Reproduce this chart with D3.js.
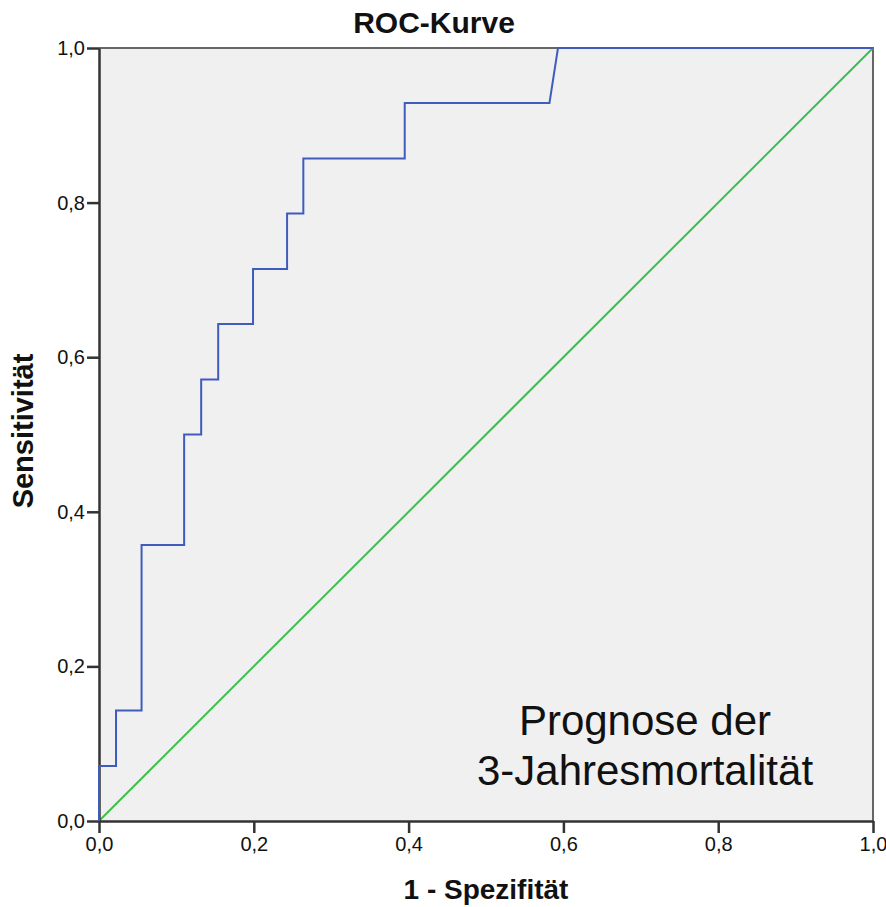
<!DOCTYPE html>
<html>
<head>
<meta charset="utf-8">
<script src="https://cdn.jsdelivr.net/npm/d3@7"></script>
<style>
  body { margin: 0; background: #fff; }
  svg text { font-family: Arial, "Liberation Sans", sans-serif; fill: #111; }
</style>
</head>
<body>
<svg id="chart" width="886" height="907"></svg>
<script>
// ROC curve data (1 - specificity, sensitivity)
var fpr = [0, 0, 0.022, 0.022, 0.055, 0.055, 0.110, 0.110, 0.132, 0.132, 0.154, 0.154,
           0.199, 0.199, 0.243, 0.243, 0.264, 0.264, 0.395, 0.395, 0.582, 0.593, 1];
var tpr = [0, 0.071, 0.071, 0.143, 0.143, 0.357, 0.357, 0.5, 0.5, 0.571, 0.571, 0.643,
           0.643, 0.714, 0.714, 0.786, 0.786, 0.857, 0.857, 0.929, 0.929, 1, 1];
var refLine = [[0, 0], [1, 1]];
var tickValues = [0, 0.2, 0.4, 0.6, 0.8, 1.0];
var title = "ROC-Kurve";
var xLabel = "1 - Spezifität";
var yLabel = "Sensitivität";
var note = ["Prognose der", "3-Jahresmortalität"];

var svg = d3.select("#chart");
var plotLeft = 99, plotRight = 873, plotTop = 48, plotBottom = 821;

var x = d3.scaleLinear().domain([0, 1]).range([plotLeft, plotRight]);
var y = d3.scaleLinear().domain([0, 1]).range([plotBottom, plotTop]);
var fmt = function (d) { return d3.format(".1f")(d).replace(".", ","); };
var line = d3.line().x(function (d) { return x(d[0]); }).y(function (d) { return y(d[1]); });

// plot background
svg.append("rect")
    .attr("x", plotLeft).attr("y", plotTop)
    .attr("width", plotRight - plotLeft).attr("height", plotBottom - plotTop)
    .attr("fill", "#f0f0f0");

// frame top/right
svg.append("path")
    .attr("d", "M" + plotLeft + "," + plotTop + "H" + plotRight + "V" + plotBottom)
    .attr("fill", "none")
    .attr("stroke", "#666")
    .attr("stroke-width", 2);

// reference diagonal
svg.append("path")
    .datum(refLine)
    .attr("d", line)
    .attr("fill", "none")
    .attr("stroke", "#3cbe4c")
    .attr("stroke-width", 2);

// axes
var xAxis = svg.append("g")
    .attr("transform", "translate(0," + plotBottom + ")")
    .call(d3.axisBottom(x).tickValues(tickValues).tickFormat(fmt).tickSize(12).tickPadding(4).tickSizeOuter(0));
var yAxis = svg.append("g")
    .attr("transform", "translate(" + plotLeft + ",0)")
    .call(d3.axisLeft(y).tickValues(tickValues).tickFormat(fmt).tickSize(12).tickPadding(2).tickSizeOuter(0));

[xAxis, yAxis].forEach(function (g) {
    g.select(".domain").attr("stroke", "#333").attr("stroke-width", 2.5);
    g.selectAll(".tick line").attr("stroke", "#333").attr("stroke-width", 2.5);
    g.selectAll(".tick text").attr("font-size", 20).attr("fill", "#222")
        .style("font-family", "Arial, 'Liberation Sans', sans-serif");
});

// ROC curve
var points = fpr.map(function (f, i) { return [f, tpr[i]]; });
svg.append("path")
    .datum(points)
    .attr("d", line)
    .attr("fill", "none")
    .attr("stroke", "#3f5cbc")
    .attr("stroke-width", 2);

// titles
svg.append("text")
    .attr("x", 434).attr("y", 33)
    .attr("text-anchor", "middle")
    .attr("font-size", 30).attr("font-weight", "bold")
    .text(title);

svg.append("text")
    .attr("x", (plotLeft + plotRight) / 2).attr("y", 899)
    .attr("text-anchor", "middle")
    .attr("font-size", 28).attr("font-weight", "bold")
    .text(xLabel);

svg.append("text")
    .attr("transform", "translate(33,431) rotate(-90)")
    .attr("text-anchor", "middle")
    .attr("font-size", 29).attr("font-weight", "bold")
    .text(yLabel);

// annotation
svg.selectAll(".note")
    .data(note)
    .enter().append("text")
    .attr("class", "note")
    .attr("x", 645)
    .attr("y", function (d, i) { return 735 + i * 50; })
    .attr("text-anchor", "middle")
    .attr("font-size", 42)
    .text(function (d) { return d; });
</script>
</body>
</html>
